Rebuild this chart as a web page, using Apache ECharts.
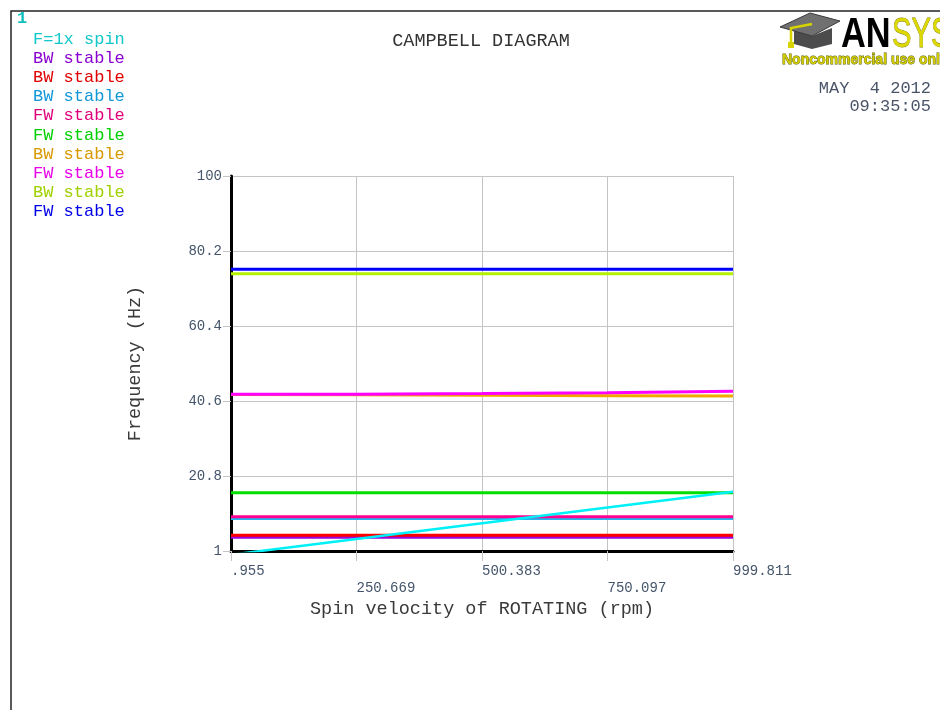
<!DOCTYPE html>
<html>
<head>
<meta charset="utf-8">
<script src="https://cdn.jsdelivr.net/npm/echarts@6/dist/echarts.min.js"></script>
<style>html,body{margin:0;padding:0;background:#fff;}#chart{width:940px;height:710px;}</style>
</head>
<body>
<div id="chart"></div>
<script>
// ---- data ----
const spinRpm = [0.955, 250.669, 500.383, 750.097, 999.811];
const freqTicks = [1, 20.8, 40.6, 60.4, 80.2, 100];
const seriesLabels = ['F=1x spin', 'BW stable', 'BW stable', 'BW stable', 'FW stable',
                      'FW stable', 'BW stable', 'FW stable', 'BW stable', 'FW stable'];
const spinLine   = [0.016, 4.178, 8.340, 12.502, 16.664];
const mode1BW    = [4.65, 4.65, 4.65, 4.65, 4.65];
const mode2BW    = [5.14, 5.14, 5.14, 5.14, 5.14];
const mode3BW    = [9.58, 9.58, 9.58, 9.58, 9.58];
const mode4FW    = [10.06, 10.06, 10.06, 10.06, 10.06];
const mode5FW    = [16.39, 16.39, 16.39, 16.39, 16.39];
const mode6BW    = [42.30, 42.25, 42.15, 42.00, 41.90];
const mode7FW    = [42.35, 42.40, 42.55, 42.80, 43.15];
const mode8BW    = [74.20, 74.20, 74.20, 74.20, 74.20];
const mode9FW    = [75.37, 75.37, 75.37, 75.37, 75.37];
const seriesValues = [spinLine, mode1BW, mode2BW, mode3BW, mode4FW, mode5FW, mode6BW, mode7FW, mode8BW, mode9FW];

// ---- styles ----
const seriesColors = ['#00f0f8', '#9a00e0', '#ff0000', '#20b4f0', '#ff0090',
                      '#00e000', '#f0a800', '#ff00ff', '#b4f000', '#0000ff'];
const legendTextColors = ['#10c8c8', '#8a00d0', '#e00000', '#1098d8', '#e0007a',
                          '#00d000', '#d89800', '#e800e8', '#a0d000', '#0000e8'];
const MONO = '"Liberation Mono", "DejaVu Sans Mono", monospace';
const LOGO = '"Liberation Sans", Arial, sans-serif';

const chart = echarts.init(document.getElementById('chart'), null, {renderer: 'canvas'});

const series = seriesValues.map((vals, k) => ({
  type: 'line',
  name: seriesLabels[k] + ' ' + k,
  data: spinRpm.map((x, i) => [x, vals[i]]),
  showSymbol: false,
  symbol: 'none',
  clip: true,
  silent: true,
  z: k === 0 ? 5 : 2 + k * 0.01,
  lineStyle: {color: seriesColors[k], width: k === 0 ? 2.5 : 3},
  itemStyle: {color: seriesColors[k]}
}));

const legendTexts = seriesLabels.map((t, i) => ({
  type: 'text',
  x: 33, y: 39 + i * 19.2,
  style: {text: t, fill: legendTextColors[i], font: '17px ' + MONO, align: 'left', verticalAlign: 'middle'}
}));

const option = {
  animation: false,
  backgroundColor: '#ffffff',
  grid: {left: 231, right: 207, top: 176, bottom: 159, containLabel: false},
  xAxis: {
    type: 'value',
    min: spinRpm[0],
    max: spinRpm[spinRpm.length - 1],
    interval: spinRpm[1] - spinRpm[0],
    name: 'Spin velocity of ROTATING (rpm)',
    nameLocation: 'middle',
    nameGap: 45,
    nameTextStyle: {fontFamily: MONO, fontSize: 18.5, color: '#3a3a3a'},
    axisLine: {show: true, onZero: false, lineStyle: {color: '#000', width: 3}},
    axisTick: {show: true, length: 10, lineStyle: {color: '#c4c4c4', width: 1}},
    splitLine: {show: true, lineStyle: {color: '#c4c4c4', width: 1}},
    axisLabel: {
      show: true, showMinLabel: true, showMaxLabel: true,
      margin: 13, align: 'left',
      color: '#44546a', fontFamily: MONO, fontSize: 14,
      formatter: function (v, idx) {
        let s = (Math.round(v * 1000) / 1000).toFixed(3);
        if (s.startsWith('0.')) s = s.slice(1);
        return idx % 2 === 1 ? '{b|' + s + '}' : '{a|' + s + '}';
      },
      rich: {
        a: {fontFamily: MONO, fontSize: 14, color: '#44546a', padding: [0, 0, 0, 0]},
        b: {fontFamily: MONO, fontSize: 14, color: '#44546a', padding: [17, 0, 0, 0]}
      }
    }
  },
  yAxis: {
    type: 'value',
    min: freqTicks[0],
    max: freqTicks[freqTicks.length - 1],
    interval: freqTicks[1] - freqTicks[0],
    name: 'Frequency (Hz)',
    nameLocation: 'middle',
    nameGap: 86,
    nameRotate: 90,
    nameTextStyle: {fontFamily: MONO, fontSize: 18.5, color: '#3a3a3a'},
    axisLine: {show: true, onZero: false, lineStyle: {color: '#000', width: 3}},
    axisTick: {show: true, length: 8, lineStyle: {color: '#c4c4c4', width: 1}},
    splitLine: {show: true, lineStyle: {color: '#c4c4c4', width: 1}},
    axisLabel: {
      show: true, showMinLabel: true, showMaxLabel: true,
      margin: 9, color: '#44546a', fontFamily: MONO, fontSize: 14,
      padding: [0, 0, 6, 0],
      formatter: function (v) { return String(Number(v.toFixed(1))); }
    }
  },
  series: series,
  graphic: [
    // frame
    {type: 'polyline', shape: {points: [[11, 710], [11, 11], [940, 11]]}, style: {stroke: '#222', lineWidth: 1.5, fill: null}, silent: true},
    // window number
    {type: 'text', x: 17, y: 19, style: {text: '1', fill: '#10c0c0', font: 'bold 17px ' + MONO, align: 'left', verticalAlign: 'middle'}},
    // title
    {type: 'text', x: 481, y: 41, style: {text: 'CAMPBELL DIAGRAM', fill: '#333', font: '18.5px ' + MONO, align: 'center', verticalAlign: 'middle'}},
    // date / time
    {type: 'text', x: 931, y: 88, style: {text: 'MAY  4 2012', fill: '#4a5468', font: '17px ' + MONO, align: 'right', verticalAlign: 'middle'}},
    {type: 'text', x: 931, y: 106, style: {text: '09:35:05', fill: '#4a5468', font: '17px ' + MONO, align: 'right', verticalAlign: 'middle'}},
    // ANSYS logo (cap)
    {type: 'polygon', shape: {points: [[794, 30], [794, 44], [812, 49], [832, 44], [832, 28], [812, 36]]}, style: {fill: '#4c4c4c'}},
    {type: 'polygon', shape: {points: [[780, 27], [810, 13], [840, 21], [812, 36]]}, style: {fill: '#707070', stroke: '#3a3a3a', lineWidth: 1}},
    {type: 'polyline', shape: {points: [[812, 24], [791, 28], [791, 46]]}, style: {stroke: '#d8d400', lineWidth: 2.5, fill: null}},
    {type: 'rect', shape: {x: 788, y: 42, width: 6, height: 6}, style: {fill: '#d8d400'}},
    {type: 'text', x: 841, y: 14, scaleX: 0.8, style: {text: 'AN', fill: '#000', font: 'bold 43px ' + LOGO, align: 'left', verticalAlign: 'top'}},
    {type: 'text', x: 892, y: 14, scaleX: 0.68, style: {text: 'SYS', fill: '#dcd800', stroke: '#7a7800', lineWidth: 0.8, font: '43px ' + LOGO, align: 'left', verticalAlign: 'top'}},
    {type: 'text', x: 782, y: 60, style: {text: 'Noncommercial use only', fill: '#d0cc00', stroke: '#5a5a00', lineWidth: 0.8, font: 'bold 14px ' + LOGO, align: 'left', verticalAlign: 'middle'}}
  ].concat(legendTexts)
};

chart.setOption(option);
</script>
</body>
</html>
